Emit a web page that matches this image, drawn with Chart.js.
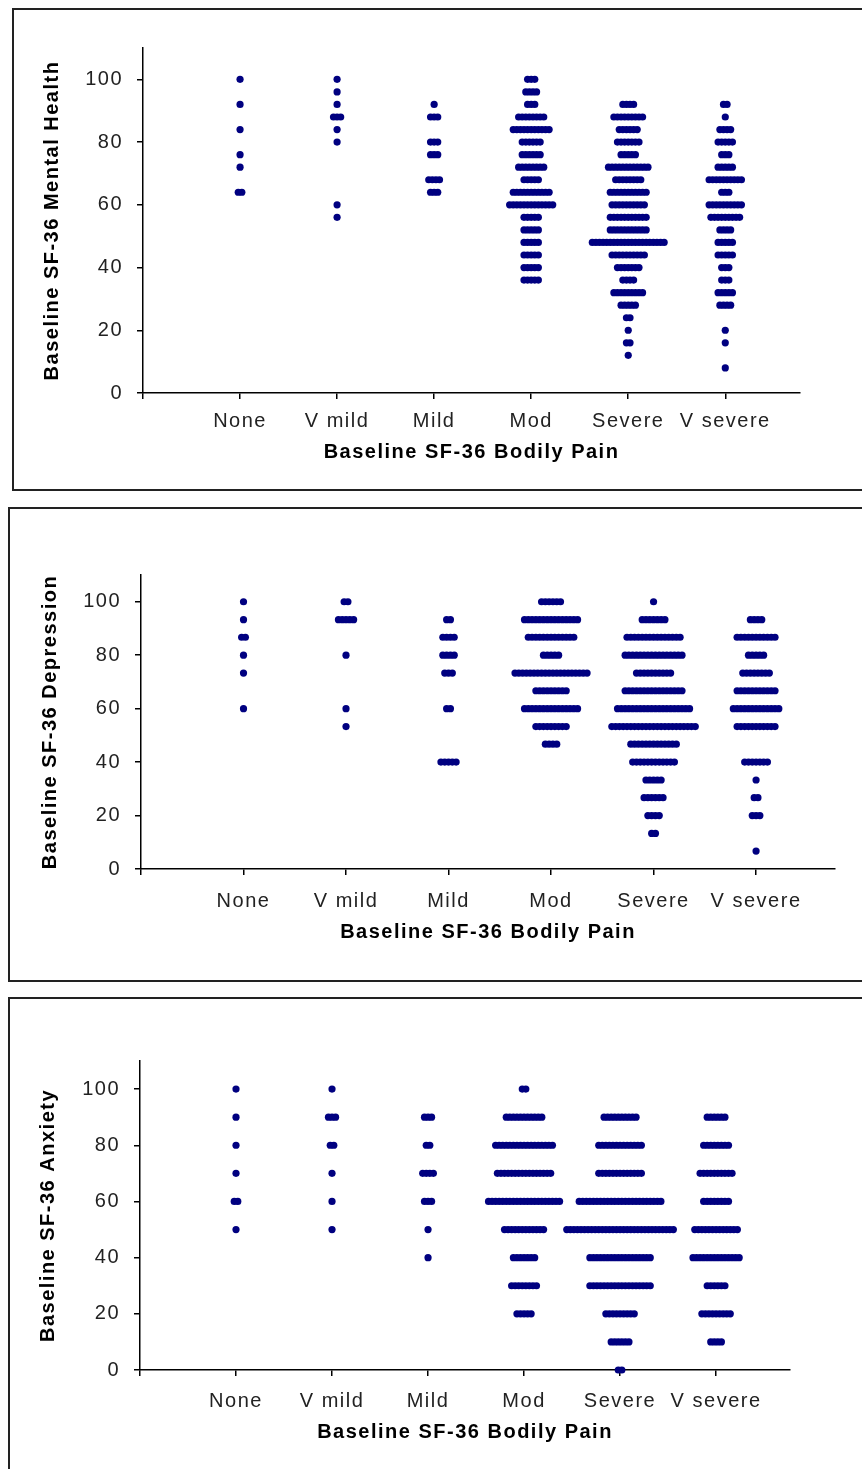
<!DOCTYPE html>
<html>
<head>
<meta charset="utf-8">
<script src="https://cdn.jsdelivr.net/npm/chart.js@4.4.0/dist/chart.umd.min.js"></script>
<style>
body { margin: 0; background: #fff; width: 862px; height: 1469px; overflow: hidden; position: relative; }
.box { position: absolute; border: 2px solid #222; box-sizing: border-box; }
canvas { position: absolute; }
</style>
</head>
<body>
<div class="box" style="left:12px;top:8px;width:870px;height:483px"></div>
<div class="box" style="left:8px;top:507px;width:870px;height:475px"></div>
<div class="box" style="left:8px;top:997px;width:870px;height:490px"></div>
<canvas id="mental" width="846" height="478" style="left:14px;top:10px"></canvas>
<canvas id="depression" width="850" height="470" style="left:10px;top:509px"></canvas>
<canvas id="anxiety" width="850" height="470" style="left:10px;top:999px"></canvas>
<script>
// categories of baseline bodily pain
const categories = ['None', 'V mild', 'Mild', 'Mod', 'Severe', 'V severe'];
const yTicks = [0, 20, 40, 60, 80, 100];

// Mental health: score levels and number of patients at each level, per category
const mhLevels = [100, 96, 92, 88, 84, 80, 76, 72, 68, 64, 60, 56, 52, 48, 44, 40, 36, 32, 28, 24, 20, 16, 12, 8];
const mhNone    = [1, 0, 1, 0, 1, 0, 1, 1, 0, 2, 0, 0, 0, 0, 0, 0, 0, 0, 0, 0, 0, 0, 0, 0];
const mhVmild   = [1, 1, 1, 3, 1, 1, 0, 0, 0, 0, 1, 1, 0, 0, 0, 0, 0, 0, 0, 0, 0, 0, 0, 0];
const mhMild    = [0, 0, 1, 3, 0, 3, 3, 0, 4, 3, 0, 0, 0, 0, 0, 0, 0, 0, 0, 0, 0, 0, 0, 0];
const mhMod     = [3, 4, 3, 8, 11, 6, 6, 8, 5, 11, 13, 5, 5, 5, 5, 5, 5, 0, 0, 0, 0, 0, 0, 0];
const mhSevere  = [0, 0, 4, 9, 6, 7, 5, 12, 8, 11, 10, 11, 11, 21, 10, 7, 4, 9, 5, 2, 1, 2, 1, 0];
const mhVsevere = [0, 0, 2, 1, 4, 5, 3, 5, 10, 3, 10, 9, 4, 5, 5, 3, 3, 5, 4, 0, 1, 1, 0, 1];

// Depression
const depLevels = [100, 93.3, 86.7, 80, 73.3, 66.7, 60, 53.3, 46.7, 40, 33.3, 26.7, 20, 13.3, 6.7];
const depNone    = [1, 1, 2, 1, 1, 0, 1, 0, 0, 0, 0, 0, 0, 0, 0];
const depVmild   = [2, 5, 0, 1, 0, 0, 1, 1, 0, 0, 0, 0, 0, 0, 0];
const depMild    = [0, 2, 4, 4, 3, 0, 2, 0, 0, 5, 0, 0, 0, 0, 0];
const depMod     = [6, 15, 13, 5, 20, 9, 15, 9, 4, 0, 0, 0, 0, 0, 0];
const depSevere  = [1, 7, 15, 16, 10, 16, 20, 23, 13, 12, 5, 6, 4, 2, 0];
const depVsevere = [0, 4, 11, 5, 8, 11, 13, 11, 0, 7, 1, 2, 3, 0, 1];

// Anxiety
const anxLevels = [100, 90, 80, 70, 60, 50, 40, 30, 20, 10, 0];
const anxNone    = [1, 1, 1, 1, 2, 1, 0, 0, 0, 0, 0];
const anxVmild   = [1, 3, 2, 1, 1, 1, 0, 0, 0, 0, 0];
const anxMild    = [0, 3, 2, 4, 3, 1, 1, 0, 0, 0, 0];
const anxMod     = [2, 11, 17, 16, 21, 12, 7, 8, 5, 0, 0];
const anxSevere  = [0, 10, 13, 13, 24, 31, 18, 18, 9, 6, 2];
const anxVsevere = [0, 6, 8, 10, 8, 13, 14, 6, 9, 4, 0];

const FONT = '"Liberation Sans", Arial, sans-serif';
const STEP = 0.037; // horizontal gap between stacked dots, in category units

// one point per patient, spread sideways around the category position
function buildPoints(levels, countLists) {
    const pts = [];
    countLists.forEach((counts, c) => {
        counts.forEach((n, i) => {
            for (let k = 0; k < n; k++) {
                pts.push({ x: c + 1 + (k - (n - 1) / 2) * STEP, y: levels[i] });
            }
        });
    });
    return pts;
}

const spacing = {
    id: 'spacing',
    beforeLayout(chart) { chart.ctx.letterSpacing = '1.5px'; },
    beforeDraw(chart) { chart.ctx.letterSpacing = '1.5px'; }
};

function makeChart(id, levels, countLists, yTitle, g) {
    new Chart(document.getElementById(id), {
        type: 'scatter',
        data: {
            datasets: [{
                data: buildPoints(levels, countLists),
                backgroundColor: '#000080',
                borderWidth: 0,
                pointRadius: 3.6,
                pointHoverRadius: 3.6,
                clip: false
            }]
        },
        options: {
            responsive: false,
            animation: false,
            devicePixelRatio: 1,
            layout: { padding: { top: g.top, right: g.right, left: 0, bottom: 0 } },
            plugins: { legend: { display: false }, tooltip: { enabled: false } },
            scales: {
                x: {
                    type: 'linear',
                    min: 0,
                    max: 6.77,
                    afterBuildTicks: s => { s.ticks = [0, 1, 2, 3, 4, 5, 6].map(v => ({ value: v })); },
                    afterFit: s => { s.height = g.xh; },
                    ticks: {
                        callback: v => categories[v - 1] || '',
                        font: { family: FONT, size: 20 },
                        color: '#222',
                        padding: g.xpad,
                        maxRotation: 0,
                        autoSkip: false
                    },
                    grid: { drawOnChartArea: false, drawTicks: true, tickLength: 6, color: '#000', lineWidth: 1.5 },
                    border: { color: '#000', width: 1.5 },
                    title: {
                        display: true,
                        text: 'Baseline SF-36 Bodily Pain',
                        font: { family: FONT, size: 20, weight: 'bold' },
                        color: '#000',
                        padding: { top: 0, bottom: g.xtb }
                    }
                },
                y: {
                    min: 0,
                    max: 110,
                    afterBuildTicks: s => { s.ticks = yTicks.map(v => ({ value: v })); },
                    afterFit: s => { s.width = g.yw; },
                    ticks: { font: { family: FONT, size: 20 }, color: '#222', padding: 14 },
                    grid: { drawOnChartArea: false, drawTicks: true, tickLength: 6, color: '#000', lineWidth: 1.5 },
                    border: { color: '#000', width: 1.5 },
                    title: {
                        display: true,
                        text: yTitle,
                        font: { family: FONT, size: 20, weight: 'bold' },
                        color: '#000',
                        padding: { top: g.ytp, bottom: 0 }
                    }
                }
            }
        },
        plugins: [spacing]
    });
}

makeChart('mental', mhLevels, [mhNone, mhVmild, mhMild, mhMod, mhSevere, mhVsevere],
    'Baseline SF-36 Mental Health', { top: 38, right: 60, yw: 129, xh: 95, xpad: 10, xtb: 24, ytp: 26 });
makeChart('depression', depLevels, [depNone, depVmild, depMild, depMod, depSevere, depVsevere],
    'Baseline SF-36 Depression', { top: 66, right: 25, yw: 131, xh: 110, xpad: 14, xtb: 35, ytp: 28 });
makeChart('anxiety', anxLevels, [anxNone, anxVmild, anxMild, anxMod, anxSevere, anxVsevere],
    'Baseline SF-36 Anxiety', { top: 62, right: 70, yw: 130, xh: 99, xpad: 13, xtb: 25, ytp: 26 });
</script>
</body>
</html>
